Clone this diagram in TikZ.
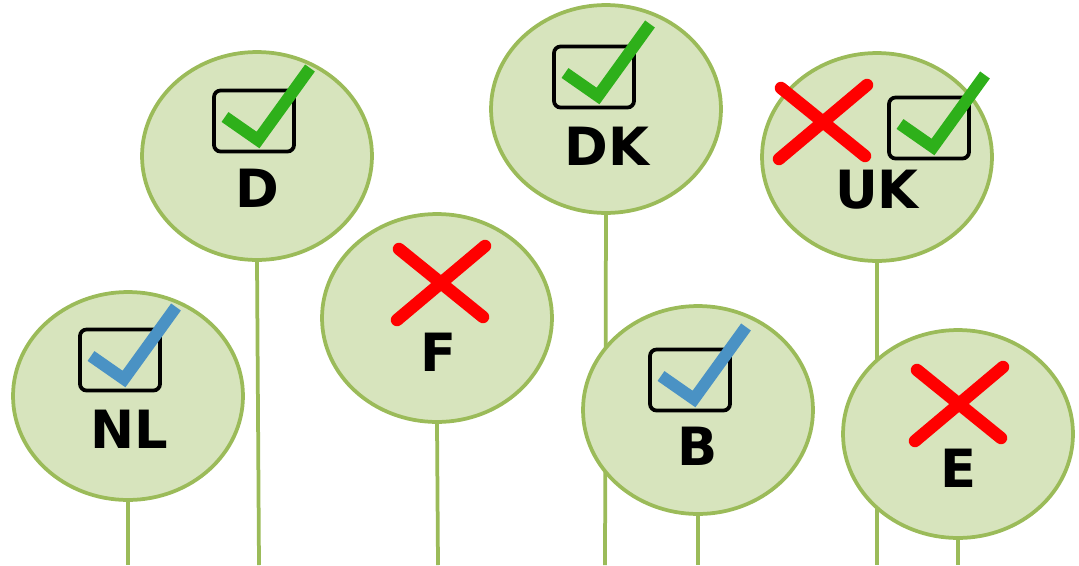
\documentclass[tikz,border=0pt]{standalone}
\usepackage{fontspec}
\setmainfont{DejaVu Sans}
\usetikzlibrary{shapes.geometric,backgrounds}

\definecolor{leaf}{RGB}{215,228,189}
\definecolor{stem}{RGB}{155,187,89}
\definecolor{okgreen}{RGB}{46,176,26}
\definecolor{okblue}{RGB}{74,146,196}
\definecolor{nored}{RGB}{255,0,0}

\tikzset{
  sign/.style={ellipse,draw=stem,fill=leaf,line width=0.075cm,
    minimum width=4.6cm,minimum height=4.16cm,inner sep=0pt},
  land/.style={anchor=base,inner sep=0pt,font=\fontsize{30}{32}\selectfont\bfseries},
  tickbox/.style={draw,rounded corners=0.13cm,line width=0.075cm,
    minimum width=1.6cm,minimum height=1.22cm,inner sep=0pt},
  tick/.style={line width=0.24cm},
  cross/.style={draw=nored,line width=0.25cm,line cap=round},
  stick/.style={draw=stem,line width=0.075cm}
}

\begin{document}
\begin{tikzpicture}[x=0.02cm,y=-0.02cm]
  \useasboundingbox (0,0) rectangle (1079,565);

  % signs
  \node[sign] (nl) at (128,396) {};
  \node[sign] (d) at (257,156) {};
  \node[sign] (f) at (437,318) {};
  \node[sign] (dk) at (606,109) {};
  \node[sign] (b) at (698,410) {};
  \node[sign] (uk) at (877,157) {};
  \node[sign] (e) at (958,434) {};

  % sticks
  \coordinate (nlfoot) at (128,565);
  \coordinate (dfoot) at (259,565);
  \coordinate (ffoot) at (438,565);
  \coordinate (dkfoot) at (605,565);
  \coordinate (bfoot) at (698,565);
  \coordinate (ukfoot) at (877,565);
  \coordinate (efoot) at (958,565);
  \begin{scope}[on background layer]
    \draw[stick] (nl.south) -- (nlfoot);
    \draw[stick] (d.south) -- (dfoot);
    \draw[stick] (f.south) -- (ffoot);
    \draw[stick] (dk.south) -- (dkfoot);
    \draw[stick] (b.south) -- (bfoot);
    \draw[stick] (uk.south) -- (ukfoot);
    \draw[stick] (e.south) -- (efoot);
  \end{scope}

  % labels
  \node[land] (nllabel) at (129,448) {NL};
  \node[land] (dlabel) at (257,207) {D};
  \node[land] (flabel) at (438,371) {F};
  \node[land] (dklabel) at (607,165) {DK};
  \node[land] (blabel) at (698,465) {B};
  \node[land] (uklabel) at (877,208) {UK};
  \node[land] (elabel) at (958,487) {E};

  % boxes with ticks
  \node[tickbox] (nlbox) at (120,360) {};
  \draw[tick,okblue] ([shift={(-29,-4)}]nlbox.center) -- ([shift={(4,19)}]nlbox.center)
    -- ([shift={(56,-53)}]nlbox.center);

  \node[tickbox] (dbox) at (254,121) {};
  \draw[tick,okgreen] ([shift={(-29,-4)}]dbox.center) -- ([shift={(4,19)}]dbox.center)
    -- ([shift={(56,-53)}]dbox.center);

  \node[tickbox] (dkbox) at (594,77) {};
  \draw[tick,okgreen] ([shift={(-29,-4)}]dkbox.center) -- ([shift={(4,19)}]dkbox.center)
    -- ([shift={(56,-53)}]dkbox.center);

  \node[tickbox] (bbox) at (690,380) {};
  \draw[tick,okblue] ([shift={(-29,-4)}]bbox.center) -- ([shift={(4,19)}]bbox.center)
    -- ([shift={(56,-53)}]bbox.center);

  \node[tickbox] (ukbox) at (929,128) {};
  \draw[tick,okgreen] ([shift={(-29,-4)}]ukbox.center) -- ([shift={(4,19)}]ukbox.center)
    -- ([shift={(56,-53)}]ukbox.center);

  % crosses
  \coordinate (fx) at (441,283);
  \draw[cross] ([shift={(-42,-34)}]fx) -- ([shift={(42,34)}]fx);
  \draw[cross] ([shift={(44,-37)}]fx) -- ([shift={(-44,37)}]fx);

  \coordinate (ukx) at (823,122);
  \draw[cross] ([shift={(-42,-34)}]ukx) -- ([shift={(42,34)}]ukx);
  \draw[cross] ([shift={(44,-37)}]ukx) -- ([shift={(-44,37)}]ukx);

  \coordinate (ex) at (959,404);
  \draw[cross] ([shift={(-42,-34)}]ex) -- ([shift={(42,34)}]ex);
  \draw[cross] ([shift={(44,-37)}]ex) -- ([shift={(-44,37)}]ex);
\end{tikzpicture}
\end{document}
